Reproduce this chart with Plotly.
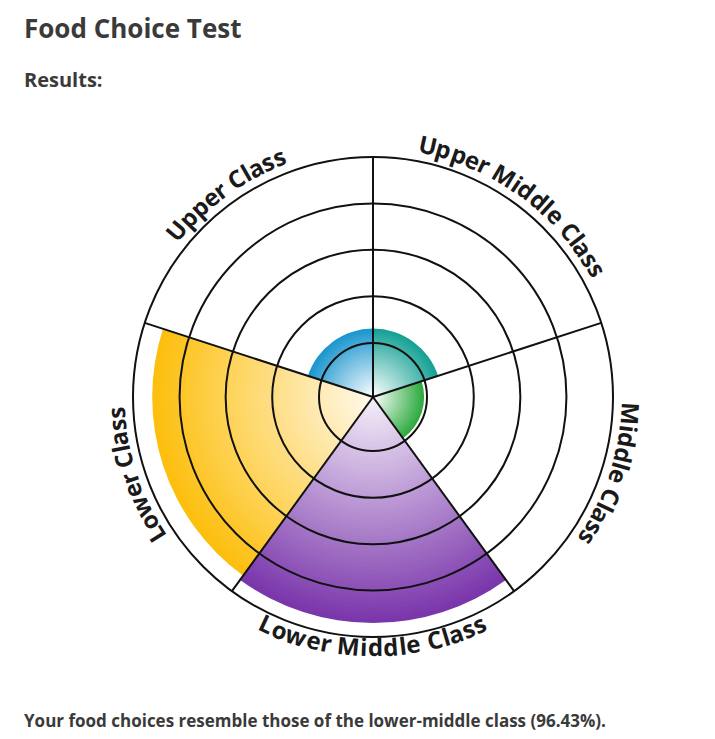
import math
import plotly.graph_objects as go

# ---------------- data ----------------
categories = ["Upper Class", "Upper Middle Class", "Middle Class",
              "Lower Middle Class", "Lower Class"]
scores = [28.5, 28.5, 21.3, 94.2, 92.0]          # radial length (% of radius)
outer_colors = ["#1B96CE", "#15A195", "#2DAA3E", "#7A36AB", "#FDBF0E"]
inner_colors = ["#FFFFFF", "#FFFFFF", "#FFFFFF", "#F6F1FA", "#FFFAEE"]
ring_levels = [22.5, 42.0, 61.4, 80.6]
sector_edges = [18, 90, 162, 234, 306]
title_text = "Food Choice Test"
subtitle_text = "Results:"
result_text = "Your food choices resemble those of the lower-middle class (96.43%)."

# ---------------- geometry / style ----------------
OFF = 8                      # page body margin
W, H = 715 - 2 * OFF, 739 - 2 * OFF
CX, CY, RAD = 373 - OFF, 397 - OFF, 240
FIRST_ANGLE = 126
STEP = 360 / len(categories)
N_LAYERS = 60


def hex2rgb(h):
    h = h.lstrip("#")
    return [int(h[i:i + 2], 16) for i in (0, 2, 4)]


def mix(c0, c1, f):
    a, b = hex2rgb(c0), hex2rgb(c1)
    return "rgb(%d,%d,%d)" % tuple(round(a[k] + (b[k] - a[k]) * f) for k in range(3))


fig = go.Figure()

# gradient bars: overlapping layers from outside (dark) to centre (light)
for j in range(N_LAYERS):
    f = 1 - j / N_LAYERS
    fig.add_trace(go.Barpolar(
        r=[v * f for v in scores],
        theta=categories,
        marker=dict(color=[mix(ic, oc, f) for ic, oc in zip(inner_colors, outer_colors)],
                    line=dict(width=0)),
        subplot="polar", showlegend=False, hoverinfo="skip",
    ))

# empty trace to make the overlay grid subplot exist
fig.add_trace(go.Scatterpolar(r=[], theta=[], subplot="polar2",
                              showlegend=False, hoverinfo="skip"))

dom_x = [(CX - RAD) / W, (CX + RAD) / W]
dom_y = [1 - (CY + RAD) / H, 1 - (CY - RAD) / H]

fig.update_layout(
    width=W, height=H,
    margin=dict(l=0, r=0, t=0, b=0),
    paper_bgcolor="white",
    showlegend=False,
    polar=dict(
        domain=dict(x=dom_x, y=dom_y),
        bgcolor="white",
        bargap=0,
        barmode="overlay",
        angularaxis=dict(type="category", categoryarray=categories,
                         rotation=FIRST_ANGLE, direction="clockwise",
                         visible=False),
        radialaxis=dict(range=[0, 100], visible=False),
    ),
    polar2=dict(
        domain=dict(x=dom_x, y=dom_y),
        bgcolor="rgba(0,0,0,0)",
        angularaxis=dict(type="linear", rotation=0, direction="counterclockwise",
                         tickmode="array", tickvals=sector_edges,
                         showticklabels=False, ticks="",
                         showgrid=True, gridcolor="#111111", gridwidth=2,
                         showline=True, linecolor="#111111", linewidth=2),
        radialaxis=dict(range=[0, 100], tickmode="array", tickvals=ring_levels,
                        showticklabels=False, ticks="", showline=False,
                        showgrid=True, gridcolor="#111111", gridwidth=2),
    ),
)

# ---------------- curved labels ----------------
CW = {' ': 0.26, 'a': 0.60, 'C': 0.65, 'd': 0.66, 'e': 0.61, 'i': 0.30,
      'l': 0.30, 'L': 0.53, 'M': 0.93, 'o': 0.63, 'p': 0.66, 'r': 0.45,
      's': 0.51, 'U': 0.75, 'w': 0.86}
FS = 24
R_OUT = 258   # labels whose letter tops face outward
R_IN = 250    # label at the bottom (tops face inward)


def norm(a):
    return (a + 180) % 360 - 180


annotations = []
for i, name in enumerate(categories):
    theta_c = FIRST_ANGLE - STEP * i
    bottom = math.sin(math.radians(theta_c)) < -0.9
    widths = [CW.get(ch, 0.6) * FS for ch in name]
    total = sum(widths)
    s = -total / 2
    R = R_IN if bottom else R_OUT
    for ch, w in zip(name, widths):
        sc = s + w / 2
        s += w
        if ch == " ":
            continue
        if bottom:
            th = theta_c + math.degrees(sc / R)
            rot = norm(-(th + 90))
        else:
            th = theta_c - math.degrees(sc / R)
            rot = norm(90 - th)
        px = CX + R * math.cos(math.radians(th))
        py = CY - R * math.sin(math.radians(th))
        annotations.append(dict(
            x=px / W, y=1 - py / H, xref="paper", yref="paper",
            text=ch, showarrow=False, textangle=rot,
            xanchor="center", yanchor="middle",
            font=dict(family="Open Sans", size=FS, color="#1a1a1a", weight="bold"),
        ))

annotations += [
    dict(x=(22 - OFF) / W, y=1 - (28 - OFF) / H, xref="paper", yref="paper",
         text=title_text, showarrow=False, xanchor="left", yanchor="middle",
         font=dict(family="Open Sans", size=26, color="#3a3a3a", weight="bold")),
    dict(x=(22 - OFF) / W, y=1 - (80 - OFF) / H, xref="paper", yref="paper",
         text=subtitle_text, showarrow=False, xanchor="left", yanchor="middle",
         font=dict(family="Open Sans", size=20, color="#3a3a3a", weight="bold")),
    dict(x=(22 - OFF) / W, y=1 - (720 - OFF) / H, xref="paper", yref="paper",
         text=result_text, showarrow=False, xanchor="left", yanchor="middle",
         font=dict(family="Open Sans", size=17, color="#3a3a3a", weight="bold")),
]
fig.update_layout(annotations=annotations)

fig.write_html("out.html")
